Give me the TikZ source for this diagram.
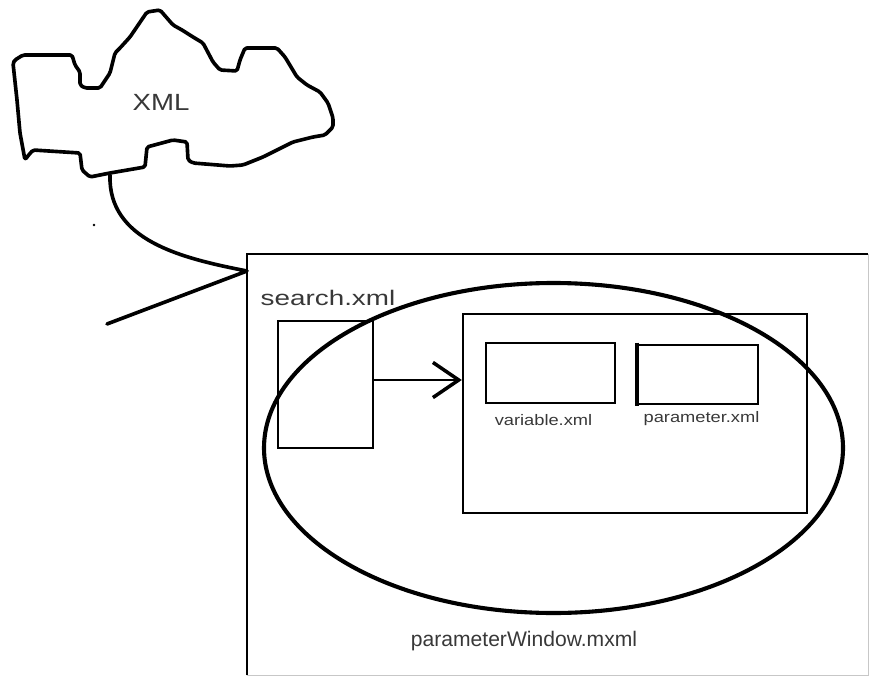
\documentclass[tikz,border=0pt]{standalone}
\usepackage{fontspec}
\setmainfont{Liberation Sans}
\usetikzlibrary{arrows.meta}

\begin{document}
\begin{tikzpicture}[x=0.03cm,y=-0.03cm,
    box/.style={draw,line width=2pt,inner sep=0pt},
    lbl/.style={text=black!78,inner sep=0pt,anchor=base},
    pen/.style={line width=3.1pt,line join=round,line cap=round}]
  \useasboundingbox (0,0) rectangle (870,677);
  \draw[pen,rounded corners=1.5pt] (15,60) -- (23,55) -- (72,55) -- (75,65) -- (80,72) %
    -- (80,85) -- (85,88) -- (100,88) -- (110,73) -- (115,53) -- (120,48) -- (130,37) %
    -- (147,12) -- (160,10) -- (173,25) -- (182,30) -- (193,37) -- (203,43) -- (213,62) %
    -- (220,70) -- (237,71) -- (240,60) -- (245,48) -- (277,48) -- (285,57) -- (297,77) %
    -- (307,85) -- (320,92) -- (328,103) -- (333,118) -- (333,127) -- (325,135) %
    -- (313,137) -- (293,142) -- (283,147) -- (263,157) -- (243,165) -- (230,166) %
    -- (193,163) -- (188,160) -- (187,142) -- (173,140) -- (147,147) -- (145,167) %
    -- (110,173) -- (90,177) -- (82,170) -- (80,153) -- (33,150) -- (27,157) %
    -- (25,160) -- (20,133) -- (17,100) -- (13,63) -- cycle;
  \node[lbl,font=\fontsize{20}{24}\selectfont,xscale=1.18] (xml) at (161,111) {XML};
  \fill (94,225) circle [radius=1.4];

  \node[inner sep=0pt,minimum width=18.63cm,minimum height=12.63cm] (win) at (557.5,464.5) {};
  \draw[line width=1.8pt] (win.south west) -- (win.north west) -- (win.north east);
  \draw[black!22,line width=0.8pt] (win.north east) -- (win.south east) -- (win.south west);

  \coordinate (cloudfoot) at (110,175);
  \coordinate (hook) at (247,271);
  \coordinate (tail) at (107,324);
  \draw[pen] (cloudfoot) .. controls (108,240) and (180,258) .. (hook) -- (tail);

  \node[lbl,font=\fontsize{18}{22}\selectfont,xscale=1.32] (searchlbl) at (328,305) {search.xml};
  \node[box,minimum width=2.85cm,minimum height=3.81cm] (search) at (325.5,384.5) {};
  \node[box,minimum width=10.32cm,minimum height=5.97cm] (inner) at (635,413.5) {};
  \node[box,minimum width=3.87cm,minimum height=1.8cm] (variable) at (550.5,373) {};
  \node[box,minimum width=3.6cm,minimum height=1.77cm] (param) at (698,374.5) {};
  \draw[line width=3.4pt] ([yshift=1pt]param.north west) -- ([yshift=-1pt]param.south west);
  \node[lbl,font=\fontsize{13}{16}\selectfont,xscale=1.2] (varlbl) at (543.5,425) {variable.xml};
  \node[lbl,font=\fontsize{13}{16}\selectfont,xscale=1.2] (paramlbl) at (701.5,422) {parameter.xml};

  \coordinate (arrowy) at (0,380);
  \draw[line width=1.7pt,-{Straight Barb[length=22pt,width=30pt,line width=3pt]}] %
    (search.east |- arrowy) -- (inner.west |- arrowy);

  \draw[line width=3.5pt] (553.5,448) ellipse [x radius=289.5,y radius=165];
  \node[lbl,font=\fontsize{18}{22}\selectfont] (winlbl) at (524,646) {parameterWindow.mxml};
\end{tikzpicture}
\end{document}
